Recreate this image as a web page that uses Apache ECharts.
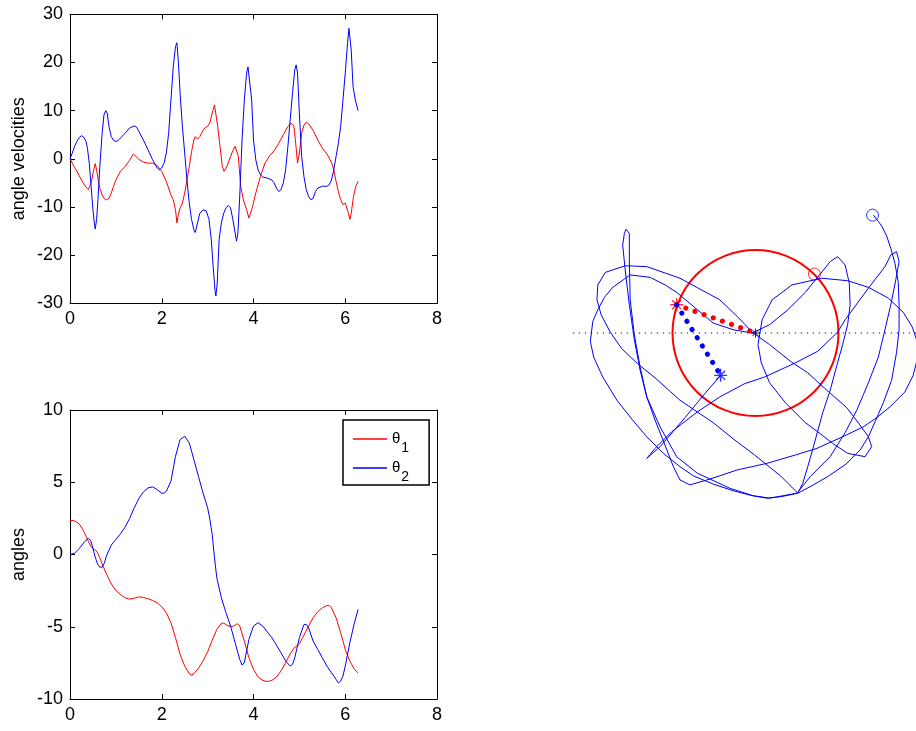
<!DOCTYPE html>
<html>
<head>
<meta charset="utf-8">
<script src="https://cdn.jsdelivr.net/npm/echarts/dist/echarts.min.js"></script>
<style>
  html, body { margin: 0; padding: 0; background: #fff; }
  #chart { width: 916px; height: 731px; }
</style>
</head>
<body>
<div id="chart"></div>
<script>
// Double pendulum: angular velocities, angles, and the path of the outer bob.

// time axis
const timeMin = 0, timeMax = 8, timeStep = 2;
// angular velocity axis
const velMin = -30, velMax = 30, velStep = 10;
// angle axis
const angMin = -10, angMax = 10, angStep = 5;

// angular velocity of the inner arm [t, dθ1/dt]
const omega1 = [[0,0],[0.05,-0.9],[0.1,-1.8],[0.15,-2.6],[0.2,-3.5],[0.25,-4.4],[0.3,-5.2],[0.35,-5.9],[0.4,-6.4],[0.43,-6.3],[0.47,-4.7],[0.5,-3.0],[0.55,-1.0],[0.58,-2.3],[0.62,-4.7],[0.65,-6.1],[0.7,-7.5],[0.75,-8.3],[0.8,-8.5],[0.85,-8.2],[0.9,-7.1],[0.95,-5.7],[1.0,-4.4],[1.1,-2.6],[1.2,-1.6],[1.3,-0.3],[1.38,1.0],[1.42,1.0],[1.5,-0.1],[1.6,-0.7],[1.7,-0.9],[1.8,-0.9],[1.9,-1.4],[2.0,-2.6],[2.1,-4.7],[2.2,-7.5],[2.25,-8.5],[2.3,-10.6],[2.33,-13.3],[2.36,-11.6],[2.4,-10.2],[2.45,-9.2],[2.5,-7.1],[2.55,-4.4],[2.6,-1.6],[2.65,1.5],[2.7,3.9],[2.73,4.6],[2.78,4.1],[2.83,4.6],[2.9,5.9],[2.95,6.5],[3.0,6.7],[3.05,7.5],[3.1,9.5],[3.15,11.2],[3.18,10.8],[3.22,6.7],[3.27,2.6],[3.32,-1.6],[3.36,-2.6],[3.42,-1.6],[3.5,0.5],[3.55,1.7],[3.6,2.6],[3.63,2.8],[3.67,0.5],[3.72,-5.7],[3.78,-8.5],[3.85,-10.6],[3.9,-12.3],[3.93,-12.6],[3.98,-9.9],[4.05,-7.1],[4.15,-3.7],[4.25,-0.9],[4.35,0.6],[4.45,1.7],[4.55,3.2],[4.65,5.0],[4.75,6.7],[4.82,7.4],[4.88,6.8],[4.92,3.2],[4.96,-0.9],[5.0,1.2],[5.05,5.3],[5.1,7.0],[5.15,7.6],[5.2,7.3],[5.3,5.9],[5.4,3.9],[5.5,2.2],[5.6,1.0],[5.7,-0.7],[5.75,-2.3],[5.8,-4.7],[5.85,-6.8],[5.9,-8.5],[5.95,-9.5],[6.0,-9.2],[6.03,-9.3],[6.07,-11.3],[6.1,-12.6],[6.13,-11.3],[6.18,-7.8],[6.23,-5.7],[6.28,-4.7]];

// angular velocity of the outer arm [t, dθ2/dt]
const omega2 = [[0,0],[0.05,1.2],[0.1,2.6],[0.15,3.6],[0.2,4.4],[0.25,4.8],[0.3,4.5],[0.35,3.6],[0.38,2.2],[0.42,-0.9],[0.46,-5.7],[0.5,-10.6],[0.53,-13.3],[0.55,-14.6],[0.58,-12.6],[0.61,-8.5],[0.65,-1.6],[0.7,5.3],[0.74,9.1],[0.78,10.0],[0.81,9.5],[0.85,6.7],[0.9,4.6],[0.95,3.8],[1.0,3.6],[1.05,3.8],[1.1,4.3],[1.2,5.3],[1.3,6.4],[1.4,6.8],[1.45,6.6],[1.5,5.7],[1.6,3.9],[1.7,1.9],[1.8,-0.2],[1.9,-1.9],[1.95,-2.3],[2.0,-1.9],[2.05,-0.9],[2.1,1.2],[2.15,5.3],[2.2,12.2],[2.25,19.1],[2.3,23.3],[2.33,24.1],[2.36,20.5],[2.4,13.6],[2.45,6.7],[2.5,1.2],[2.55,-4.4],[2.6,-9.2],[2.65,-12.6],[2.7,-14.7],[2.73,-15.3],[2.78,-13.3],[2.83,-11.3],[2.9,-10.6],[2.97,-10.8],[3.03,-12.6],[3.08,-16.8],[3.12,-22.3],[3.16,-27.2],[3.18,-28.5],[3.21,-25.8],[3.25,-16.8],[3.3,-13.3],[3.35,-11.3],[3.4,-10.2],[3.45,-9.7],[3.5,-10.2],[3.55,-12.6],[3.6,-15.4],[3.63,-17.1],[3.66,-15.4],[3.7,-7.8],[3.75,3.9],[3.8,12.2],[3.85,17.8],[3.88,19.1],[3.92,18.8],[3.96,12.2],[4.0,3.9],[4.05,-0.2],[4.1,-2.3],[4.15,-3.3],[4.2,-3.8],[4.3,-4.0],[4.4,-4.4],[4.45,-5.0],[4.5,-6.1],[4.55,-6.8],[4.6,-6.4],[4.65,-5.0],[4.7,-2.3],[4.75,2.6],[4.8,8.1],[4.85,13.6],[4.9,18.5],[4.93,19.5],[4.96,17.8],[5.0,9.3],[5.05,0.5],[5.1,-3.7],[5.15,-6.4],[5.2,-7.8],[5.25,-8.5],[5.3,-8.2],[5.35,-6.8],[5.4,-6.1],[5.5,-5.7],[5.6,-5.7],[5.65,-5.4],[5.7,-4.4],[5.75,-2.3],[5.8,0.5],[5.85,3.2],[5.9,6.7],[5.95,12.2],[6.0,17.8],[6.05,24.0],[6.08,27.1],[6.1,27.4],[6.13,22.6],[6.17,15.0],[6.22,12.2],[6.28,10.0]];

// angle of the inner arm [t, θ1]
const theta1 = [[0,2.37],[0.1,2.33],[0.2,2.12],[0.3,1.61],[0.4,0.92],[0.45,0.58],[0.5,0.41],[0.55,0.32],[0.6,0.12],[0.65,-0.23],[0.7,-0.65],[0.8,-1.38],[0.9,-2.03],[1.0,-2.49],[1.1,-2.76],[1.2,-3.0],[1.3,-3.09],[1.4,-3.02],[1.5,-2.93],[1.6,-2.97],[1.7,-3.06],[1.8,-3.18],[1.9,-3.34],[2.0,-3.62],[2.1,-4.03],[2.2,-4.72],[2.3,-5.76],[2.4,-6.91],[2.5,-7.72],[2.6,-8.25],[2.65,-8.34],[2.7,-8.25],[2.8,-7.88],[2.9,-7.37],[3.0,-6.73],[3.1,-5.94],[3.2,-5.18],[3.3,-4.77],[3.35,-4.75],[3.45,-4.95],[3.55,-4.98],[3.65,-4.79],[3.7,-4.95],[3.8,-5.99],[3.9,-7.14],[4.0,-7.95],[4.1,-8.48],[4.2,-8.71],[4.3,-8.8],[4.4,-8.71],[4.5,-8.48],[4.6,-8.06],[4.7,-7.49],[4.8,-6.87],[4.9,-6.41],[4.95,-6.34],[5.0,-6.18],[5.1,-5.58],[5.2,-4.95],[5.3,-4.38],[5.4,-3.96],[5.5,-3.69],[5.6,-3.53],[5.65,-3.53],[5.7,-3.69],[5.8,-4.38],[5.9,-5.41],[6.0,-6.57],[6.1,-7.37],[6.2,-7.95],[6.28,-8.2]];

// angle of the outer arm [t, θ2]
const theta2 = [[0,0],[0.1,0.09],[0.2,0.41],[0.3,0.81],[0.35,0.99],[0.4,1.11],[0.45,0.97],[0.5,0.41],[0.55,-0.18],[0.6,-0.65],[0.65,-0.88],[0.7,-0.88],[0.75,-0.58],[0.8,-0.05],[0.9,0.65],[1.0,1.04],[1.1,1.43],[1.2,1.89],[1.3,2.49],[1.4,3.23],[1.5,3.87],[1.6,4.33],[1.7,4.61],[1.8,4.68],[1.9,4.49],[2.0,4.24],[2.05,4.24],[2.1,4.38],[2.2,5.07],[2.3,6.8],[2.4,7.95],[2.5,8.18],[2.6,7.72],[2.7,6.57],[2.8,5.41],[2.9,4.26],[3.0,3.23],[3.05,2.42],[3.1,1.38],[3.15,-0.23],[3.2,-1.61],[3.3,-3.0],[3.4,-4.03],[3.5,-4.95],[3.6,-6.11],[3.7,-7.26],[3.75,-7.65],[3.8,-7.49],[3.9,-5.88],[4.0,-4.95],[4.1,-4.72],[4.2,-4.95],[4.3,-5.35],[4.4,-5.76],[4.5,-6.27],[4.6,-6.8],[4.7,-7.37],[4.8,-7.72],[4.85,-7.6],[4.9,-7.14],[5.0,-5.76],[5.1,-4.84],[5.15,-4.84],[5.2,-5.07],[5.3,-5.99],[5.4,-6.57],[5.5,-7.14],[5.6,-7.72],[5.7,-8.18],[5.8,-8.64],[5.85,-8.89],[5.9,-8.76],[5.95,-8.41],[6.0,-7.72],[6.1,-6.11],[6.2,-4.72],[6.28,-3.8]];

// pendulum geometry, in arm lengths
const pivot = [0, 0];
const armLength = 1;
const bob1Start = [0.71, 0.71];
const bob2Start = [1.41, 1.42];
const bob1End = [-0.95, 0.34];
const bob2End = [-0.42, -0.51];
const horizonX = [-2.2, 2.2];
const viewMin = -2.2, viewMax = 2.2;

// path of the outer bob [x, y]
const bobPath = [
  [1.42,1.42],[1.46,1.37],[1.52,1.29],[1.58,1.17],[1.63,1.02],[1.68,0.84],[1.72,0.61],[1.73,0.34],[1.73,0.04],[1.70,-0.23],[1.64,-0.57],[1.54,-0.84],[1.44,-1.07],[1.36,-1.25],[1.26,-1.41],[1.09,-1.58],[0.87,-1.73],[0.68,-1.84],[0.51,-1.93],[0.32,-1.97],[0.14,-1.99],[-0.04,-1.96],[-0.27,-1.90],[-0.51,-1.82],[-0.75,-1.72],[-0.91,-1.61],[-1.11,-1.45],[-1.31,-1.25],[-1.48,-1.05],[-1.67,-0.81],[-1.84,-0.53],[-1.95,-0.29],[-1.99,-0.10],[-1.96,0.14],[-1.90,0.28],[-1.82,0.43],[-1.72,0.55],[-1.51,0.70],[-1.27,0.67],[-1.09,0.58],[-0.95,0.49],[-0.70,0.28],[-0.51,0.12],[-0.27,0.04],[-0.04,0.00],
  [0.17,0.10],[0.39,0.28],[0.60,0.49],[0.78,0.71],[0.90,0.86],[0.99,0.92],[1.08,0.82],[1.13,0.60],[1.14,0.34],[1.11,0.10],[1.05,-0.14],[0.98,-0.39],[0.90,-0.69],[0.81,-0.96],[0.72,-1.29],[0.63,-1.61],[0.57,-1.81],[0.51,-1.93],
  [0.30,-1.72],[-0.01,-1.47],[-0.25,-1.29],[-0.51,-1.08],[-0.91,-0.81],[-1.21,-0.54],[-1.42,-0.37],[-1.61,-0.19],[-1.75,0.01],[-1.86,0.22],[-1.91,0.40],[-1.90,0.58],[-1.81,0.73],[-1.57,0.81],[-1.31,0.80],[-0.91,0.66],[-0.43,0.40],[-0.22,0.20],[-0.04,0.01],
  [0.17,-0.14],[0.42,-0.34],[0.63,-0.48],[0.86,-0.69],[1.10,-0.90],[1.26,-1.11],[1.36,-1.25],[1.40,-1.37],[1.32,-1.49],[1.11,-1.45],[0.93,-1.33],[0.75,-1.19],[0.60,-1.08],[0.36,-0.84],[0.17,-0.60],[0.07,-0.36],[0.03,-0.14],[0.08,0.16],[0.20,0.40],[0.44,0.58],[0.80,0.66],[1.11,0.63],[1.36,0.55],[1.60,0.42],[1.78,0.25],[1.89,0.07],[1.95,-0.11],[1.96,-0.27],[1.90,-0.51],[1.80,-0.71],[1.62,-0.89],[1.46,-1.02],[1.30,-1.13],[1.05,-1.25],[0.74,-1.39],[0.48,-1.47],[0.14,-1.57],[-0.22,-1.65],[-0.55,-1.76],[-0.79,-1.83],[-0.91,-1.77],[-0.99,-1.61],[-1.11,-1.30],[-1.21,-1.05],[-1.31,-0.77],[-1.39,-0.45],[-1.46,-0.08],[-1.52,0.34],[-1.57,0.76],[-1.60,1.06],[-1.58,1.20],[-1.56,1.25],[-1.52,1.20],[-1.52,0.88],[-1.51,0.40],[-1.46,-0.02],[-1.39,-0.41],[-1.31,-0.77],[-1.15,-1.13],[-0.95,-1.49],[-0.70,-1.69],[-0.31,-1.87],[-0.03,-1.96],[0.17,-1.99],[0.50,-1.93],
  [0.66,-1.73],[0.90,-1.49],[1.08,-1.20],[1.22,-0.93],[1.36,-0.60],[1.48,-0.29],[1.56,0.04],[1.63,0.34],[1.69,0.64],[1.73,0.86],[1.70,0.98],[1.63,0.94],[1.56,0.80],[1.36,0.54],[1.08,0.16],[0.99,0.01],[0.75,-0.22],[0.48,-0.36],[0.11,-0.53],[-0.13,-0.61],[-0.43,-0.77],[-0.70,-0.95],[-1.01,-1.19],[-1.21,-1.39],[-1.31,-1.51],[-1.15,-1.37],[-0.85,-1.02],[-0.61,-0.73],[-0.42,-0.51]
];

const FONT = 'Liberation Sans, Arial, Helvetica, sans-serif';
const RED = '#ff0000';
const BLUE = '#0000ff';
const STAR = 'path://M5,0L5,10M0,5L10,5M1.5,1.5L8.5,8.5M1.5,8.5L8.5,1.5';

function boxAxis(gridIndex, position, min, max, step, withLabels, name) {
  return {
    type: 'value', gridIndex, position, min, max, interval: step,
    name: name || '', nameLocation: 'middle', nameGap: 42, nameRotate: 90,
    nameTextStyle: { fontSize: 18, fontFamily: FONT, color: '#000' },
    axisLine: { show: true, onZero: false, lineStyle: { color: '#000', width: 1 } },
    axisTick: { show: true, inside: true, length: 5, lineStyle: { color: '#000', width: 1 } },
    axisLabel: { show: withLabels, fontSize: 18, fontFamily: FONT, color: '#000', margin: 7 },
    splitLine: { show: false }
  };
}

const chart = echarts.init(document.getElementById('chart'), null, { renderer: 'canvas' });

chart.setOption({
  animation: false,
  backgroundColor: '#fff',
  textStyle: { fontFamily: FONT },
  grid: [
    { left: 70, top: 14.3, width: 367, height: 289, containLabel: false, outerBoundsMode: 'none' },
    { left: 70, top: 410, width: 367, height: 289, containLabel: false, outerBoundsMode: 'none' },
    { left: 572.9, top: 150.4, width: 365.2, height: 365.2, containLabel: false, outerBoundsMode: 'none' }
  ],
  xAxis: [
    boxAxis(0, 'bottom', timeMin, timeMax, timeStep, true),
    boxAxis(0, 'top', timeMin, timeMax, timeStep, false),
    boxAxis(1, 'bottom', timeMin, timeMax, timeStep, true),
    boxAxis(1, 'top', timeMin, timeMax, timeStep, false),
    { type: 'value', gridIndex: 2, min: viewMin, max: viewMax, show: false }
  ],
  yAxis: [
    boxAxis(0, 'left', velMin, velMax, velStep, true, 'angle velocities'),
    boxAxis(0, 'right', velMin, velMax, velStep, false),
    boxAxis(1, 'left', angMin, angMax, angStep, true, 'angles'),
    boxAxis(1, 'right', angMin, angMax, angStep, false),
    { type: 'value', gridIndex: 2, min: viewMin, max: viewMax, show: false }
  ],
  legend: {
    data: ['θ1', 'θ2'],
    orient: 'vertical',
    left: 343, top: 420,
    padding: [3, 20, 1, 10],
    itemGap: -3, itemWidth: 34, itemHeight: 1.3,
    icon: 'rect',
    borderColor: '#000', borderWidth: 1.5, borderRadius: 0,
    backgroundColor: '#fff',
    selectedMode: false,
    formatter: n => '{g|θ}{s|' + n.charAt(1) + '}',
    textStyle: {
      rich: {
        g: { fontSize: 15, lineHeight: 18, fontFamily: FONT, color: '#000' },
        s: { fontSize: 14, lineHeight: 18, fontFamily: FONT, color: '#000', padding: [18, 0, 0, 1] }
      }
    }
  },
  series: [
    { name: 'ω1', type: 'line', xAxisIndex: 0, yAxisIndex: 0, data: omega1, symbol: 'none',
      lineStyle: { color: RED, width: 1 }, itemStyle: { color: RED } },
    { name: 'ω2', type: 'line', xAxisIndex: 0, yAxisIndex: 0, data: omega2, symbol: 'none',
      lineStyle: { color: BLUE, width: 1 }, itemStyle: { color: BLUE } },
    { name: 'θ1', type: 'line', xAxisIndex: 2, yAxisIndex: 2, data: theta1, symbol: 'none',
      lineStyle: { color: RED, width: 1 }, itemStyle: { color: RED } },
    { name: 'θ2', type: 'line', xAxisIndex: 2, yAxisIndex: 2, data: theta2, symbol: 'none',
      lineStyle: { color: BLUE, width: 1 }, itemStyle: { color: BLUE } },

    // horizontal reference through the pivot
    { name: 'horizon', type: 'line', xAxisIndex: 4, yAxisIndex: 4, symbol: 'none', silent: true,
      data: [[horizonX[0], pivot[1]], [horizonX[1], pivot[1]]],
      lineStyle: { color: '#111', width: 1, type: [1.2, 4.8] } },
    // path of the outer bob
    { name: 'path', type: 'line', xAxisIndex: 4, yAxisIndex: 4, symbol: 'none', silent: true,
      data: bobPath, lineStyle: { color: BLUE, width: 1 } },
    // reach of the inner bob
    { name: 'reach', type: 'custom', xAxisIndex: 4, yAxisIndex: 4, silent: true, clip: false,
      data: [[pivot[0], pivot[1], armLength]],
      encode: { x: 0, y: 1 },
      renderItem: (params, api) => {
        const c = api.coord([api.value(0), api.value(1)]);
        const r = api.size([api.value(2), 0])[0];
        return { type: 'circle', shape: { cx: c[0], cy: c[1], r: r },
                 style: { fill: 'none', stroke: RED, lineWidth: 2 } };
      } },
    // arms at the final time
    { name: 'arm1', type: 'line', xAxisIndex: 4, yAxisIndex: 4, symbol: 'none', silent: true,
      data: [bob1End, pivot],
      lineStyle: { color: RED, width: 5, type: [0.1, 9.6], cap: 'round' } },
    { name: 'arm2', type: 'line', xAxisIndex: 4, yAxisIndex: 4, symbol: 'none', silent: true,
      data: [bob1End, bob2End],
      lineStyle: { color: BLUE, width: 5, type: [0.1, 9.6], cap: 'round' } },
    // start positions
    { name: 'start1', type: 'scatter', xAxisIndex: 4, yAxisIndex: 4, silent: true,
      data: [bob1Start], symbol: 'circle', symbolSize: 12,
      itemStyle: { color: 'rgba(0,0,0,0)', borderColor: RED, borderWidth: 1 } },
    { name: 'start2', type: 'scatter', xAxisIndex: 4, yAxisIndex: 4, silent: true,
      data: [bob2Start], symbol: 'circle', symbolSize: 12,
      itemStyle: { color: 'rgba(0,0,0,0)', borderColor: BLUE, borderWidth: 1 } },
    // pivot and bobs at the final time
    { name: 'pivot', type: 'scatter', xAxisIndex: 4, yAxisIndex: 4, silent: true,
      data: [pivot], symbol: STAR, symbolSize: 9,
      itemStyle: { color: 'rgba(0,0,0,0)', borderColor: '#000', borderWidth: 1 } },
    { name: 'bob1', type: 'scatter', xAxisIndex: 4, yAxisIndex: 4, silent: true,
      data: [bob1End], symbol: STAR, symbolSize: 13,
      itemStyle: { color: 'rgba(0,0,0,0)', borderColor: RED, borderWidth: 1.4 } },
    { name: 'bob2', type: 'scatter', xAxisIndex: 4, yAxisIndex: 4, silent: true,
      data: [bob2End], symbol: STAR, symbolSize: 13,
      itemStyle: { color: 'rgba(0,0,0,0)', borderColor: BLUE, borderWidth: 1.4 } }
  ]
});
</script>
</body>
</html>
